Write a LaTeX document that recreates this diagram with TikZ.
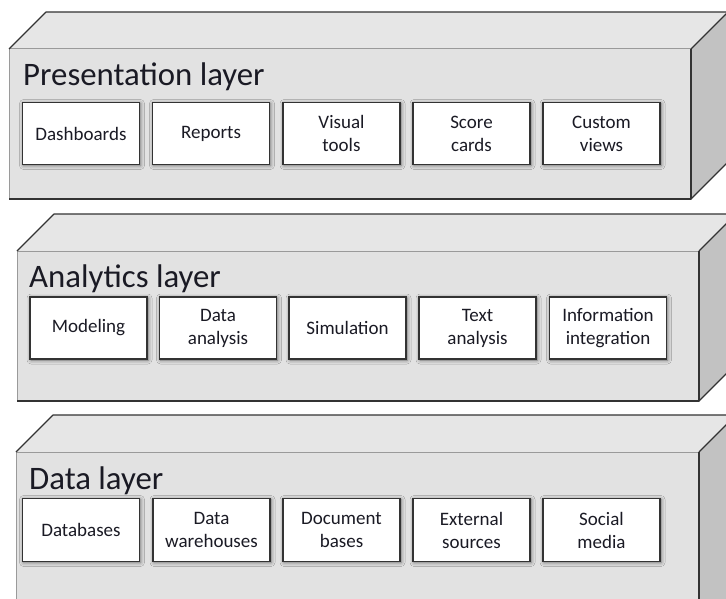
\documentclass[tikz,border=0pt]{standalone}
\usepackage{fontspec}
\setmainfont{Carlito}
\usetikzlibrary{shadows.blur}

\definecolor{frontgray}{HTML}{E2E2E2}
\definecolor{topgray}{HTML}{E6E6E6}
\definecolor{sidegray}{HTML}{C2C2C2}
\definecolor{edgedark}{HTML}{333333}
\definecolor{edgelight}{HTML}{9A9A9A}
\definecolor{inktext}{HTML}{1A1A24}

\tikzset{
  itembox/.style={draw=edgedark, line width=1.1pt, fill=white,
    minimum width=117pt, minimum height=62pt, inner sep=0pt,
    align=center, font=\fontsize{19}{23}\selectfont, text=inktext,
    blur shadow={shadow xshift=1pt, shadow yshift=-1pt,
      shadow blur radius=4pt, shadow opacity=55}},
  layertitle/.style={anchor=base west, inner sep=0pt,
    font=\fontsize{32.8}{38}\selectfont, text=inktext},
  darkedge/.style={draw=edgedark, line width=1.1pt, line join=round},
  lightedge/.style={draw=edgelight, line width=1pt}
}

% slab: #1 left, #2 front top, #3 right, #4 bottom, #5 depth
\newcommand{\layerslab}[5]{%
  \fill[topgray] (#1,#2) -- (#1+#5,#2-#5) -- (#3+#5,#2-#5) -- (#3,#2) -- cycle;
  \fill[sidegray] (#3,#2) -- (#3+#5,#2-#5) -- (#3+#5,#4-#5) -- (#3,#4) -- cycle;
  \fill[frontgray] (#1,#2) rectangle (#3,#4);
  \draw[lightedge] (#1,#4) -- (#1,#2) -- (#3,#2);
  \draw[darkedge] (#1,#2) -- (#1+#5,#2-#5) -- (#3+#5,#2-#5);
  \draw[darkedge] (#3,#2) -- (#3+#5,#2-#5) -- (#3+#5,#4-#5) -- (#3,#4);
  \draw[darkedge] (#1,#4) -- (#3,#4) -- (#3,#2);
}

\begin{document}
\begin{tikzpicture}[x=1pt, y=-1pt]
\useasboundingbox (0,0) rectangle (726,599);
\clip (0,0) rectangle (726,599);

% Presentation layer
\layerslab{9}{49}{691}{199}{37}
\node[layertitle] (ptitle) at (23,86) {Presentation layer};
\node[itembox] (p1) at (81,133.5) {Dashboards};
\node[itembox] (p2) at (211,133.5) {Reports};
\node[itembox] (p3) at (341.5,133.5) {Visual\\tools};
\node[itembox] (p4) at (471.5,133.5) {Score\\cards};
\node[itembox] (p5) at (601.5,133.5) {Custom\\views};

% Analytics layer
\layerslab{17}{251}{699}{401}{37}
\node[layertitle] (atitle) at (29,287) {Analytics layer};
\node[itembox] (a1) at (88.5,328) {Modeling};
\node[itembox] (a2) at (218,328) {Data\\analysis};
\node[itembox] (a3) at (347.5,328) {Simulation};
\node[itembox] (a4) at (477.5,328) {Text\\analysis};
\node[itembox] (a5) at (608,328) {Information\\integration};

% Data layer
\layerslab{16}{452}{699}{640}{37}
\node[layertitle] (dtitle) at (29,489) {Data layer};
\node[itembox, minimum height=63pt] (d1) at (81,530) {Databases};
\node[itembox, minimum height=63pt] (d2) at (211.5,530) {Data\\warehouses};
\node[itembox, minimum height=63pt] (d3) at (341.5,530) {Document\\bases};
\node[itembox, minimum height=63pt] (d4) at (471.5,530) {External\\sources};
\node[itembox, minimum height=63pt] (d5) at (601.5,530) {Social\\media};
\end{tikzpicture}
\end{document}
